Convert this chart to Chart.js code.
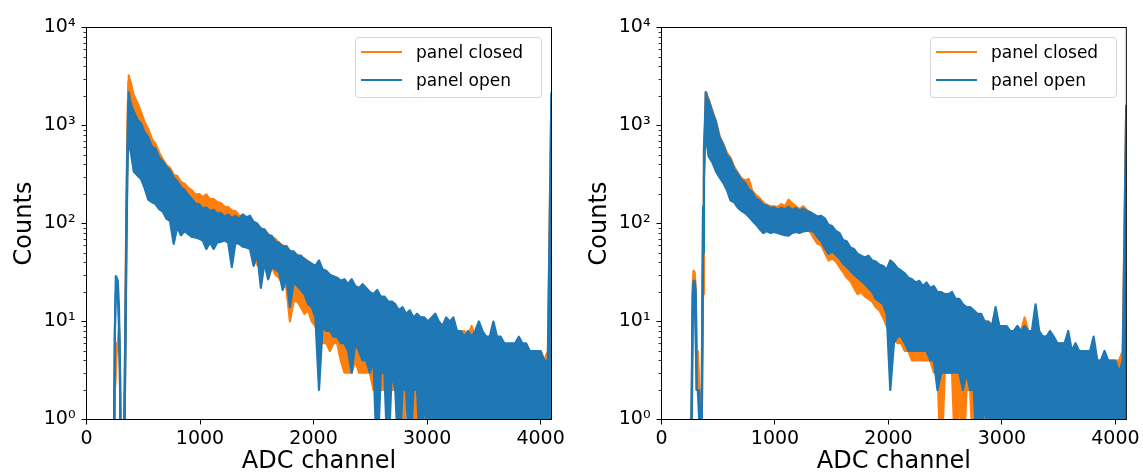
<!DOCTYPE html>
<html>
<head>
<meta charset="utf-8">
<script src="https://cdn.jsdelivr.net/npm/chart.js@4"></script>
<style>
  html,body{margin:0;padding:0;background:#fff;}
  body{width:1143px;height:472px;overflow:hidden;position:relative;font-family:'DejaVu Sans',sans-serif;}
  .panel{position:absolute;top:0;}
  .legend{position:absolute;top:37px;width:185px;height:59px;border:1px solid #d6d6d6;border-radius:4px;background:rgba(255,255,255,0.8);}
  .key{position:absolute;height:2.4px;width:41px;}
  .txt{position:absolute;font-size:17px;line-height:20px;color:#000;white-space:nowrap;}
</style>
</head>
<body>
<div class="panel" style="left:0;width:571px"><canvas id="left" width="571" height="480"></canvas></div>
<div class="panel" style="left:575px;width:568px"><canvas id="right" width="568" height="480"></canvas></div>
<script>
// spectra: dense region after the peak is sampled every 32 ADC channels,
// each series kept as upper / lower edge of its noise band (counts)
const GRID_START = 416, GRID_STEP = 32, GRID_END = 4064, LAST_CHANNEL = 4095;
const ZERO_FLOOR = 0.3;   // zero counts drop below the log axis, like matplotlib

const seriesLabels = ['panel closed', 'panel open'];
const seriesColors = ['#ff7f0e', '#1f77b4'];
const xTicks = [0, 1000, 2000, 3000, 4000];

// ---- left panel ----
const leftPre = [240, 250, 258, 266, 276, 286, 294, 302, 328, 336, 344, 352, 360, 368, 372, 380, 392, 404];

const leftOpenHi = [
  0, 8, 29, 28, 26, 14, 4, 0, 0, 2, 15, 140, 600, 1800, 2180, 1900, 1650, 1500,
  1400, 1150, 1050, 850, 760, 610, 580, 470,
  430, 380, 350, 295, 270, 235, 220, 196,
  178, 160, 158, 142, 146, 133, 138, 126,
  128, 118, 124, 114, 120, 112, 124, 116,
  120, 104, 100, 88, 87, 76, 75, 65,
  64, 58, 59, 52, 52, 47, 47, 43,
  41, 39, 37, 42, 34, 33, 30, 29,
  28, 26, 27, 24, 27, 23, 22, 24,
  22, 20, 19, 21, 18, 18, 16, 16,
  15, 13, 14, 12, 13, 11, 12, 11,
  11, 10, 11, 12, 10, 9, 11, 10,
  11, 8, 8, 7, 8, 7, 8, 10,
  8, 7, 7, 10, 7, 7, 6, 6,
  6, 6, 7, 6, 6, 5, 5, 5,
  5, 4, 4, 2180
];
const leftOpenLo = [
  0, 8, 20, 22, 18, 9, 3, 0, 0, 1, 6, 60, 300, 900, 1200, 600, 520, 420,
  340, 310, 285, 230, 175, 165, 158, 140,
  132, 112, 106, 62, 92, 76, 84, 78,
  73, 72, 70, 67, 55, 64, 55, 64,
  65, 67, 64, 36, 64, 62, 58, 57,
  55, 37, 49, 22, 40, 27, 36, 34,
  32, 21, 28, 14, 25, 23, 21, 19,
  15, 14, 11, 2, 9, 8, 8, 7,
  7, 6, 6, 5, 3, 6, 5, 4,
  4, 3, 4, 0, 3, 3, 0, 3,
  2, 0, 2, 2, 0, 2, 2, 0,
  2, 0, 0, 0, 1, 0, 0, 0,
  0, 0, 0, 0, 0, 0, 0, 0,
  0, 0, 0, 0, 0, 0, 0, 0,
  0, 0, 0, 0, 0, 0, 0, 0,
  0, 0, 0, 0
];
const leftClosedHi = [
  0, 2, 4, 6, 6, 9, 5, 0, 0, 2, 20, 180, 900, 2800, 3240, 3000, 2700, 2300,
  2050, 1700, 1380, 1080, 920, 730, 650, 530,
  455, 395, 370, 315, 305, 265, 255, 232,
  218, 198, 200, 186, 198, 176, 178, 165,
  162, 148, 147, 136, 134, 121, 119, 113,
  114, 100, 97, 90, 86, 78, 72, 70,
  62, 60, 57, 53, 50, 48, 45, 44,
  41, 38, 36, 38, 34, 32, 30, 28,
  27, 25, 26, 24, 25, 22, 22, 21,
  21, 19, 19, 18, 17, 17, 16, 15,
  14, 13, 13, 12, 12, 11, 11, 11,
  10, 10, 10, 11, 9, 9, 9, 9,
  9, 8, 8, 8, 7, 9, 7, 8,
  7, 7, 6, 7, 6, 6, 6, 5,
  5, 5, 5, 5, 5, 5, 5, 5,
  5, 4, 5, 1900
];
const leftClosedLo = [
  0, 2, 3, 5, 5, 6, 4, 0, 0, 1, 8, 80, 400, 1300, 1800, 1500, 1300, 1100,
  400, 360, 330, 280, 230, 210, 190, 175,
  160, 140, 130, 110, 110, 100, 100, 95,
  90, 88, 85, 82, 80, 78, 76, 75,
  75, 74, 72, 70, 70, 68, 66, 63,
  60, 45, 38, 35, 40, 27, 36, 30,
  28, 24, 22, 10, 16, 16, 14, 12,
  13, 10, 9, 7, 6, 6, 5, 6,
  6, 4, 3, 3, 3, 4, 3, 3,
  3, 3, 2, 2, 2, 2, 2, 2,
  2, 2, 0, 2, 2, 0, 0, 2,
  2, 0, 0, 0, 0, 0, 0, 0,
  0, 0, 0, 0, 0, 0, 0, 0,
  0, 0, 0, 0, 0, 0, 0, 0,
  0, 0, 0, 0, 0, 0, 0, 0,
  0, 0, 0, 0
];

// ---- right panel ----
const rightPre = [258, 266, 274, 282, 292, 302, 310, 320, 332, 342, 350, 358, 366, 374, 382, 390, 396, 404];

const rightOpenHi = [
  0, 2, 18, 26, 26, 20, 2, 2, 2, 0, 0, 6, 150, 600, 1000, 2180, 2100, 1900,
  1800, 1380, 1080, 750, 640, 500, 450, 360,
  320, 280, 262, 225, 210, 180, 172, 155,
  152, 144, 146, 138, 145, 140, 148, 138,
  144, 136, 142, 134, 130, 124, 118, 120,
  112, 97, 94, 84, 80, 68, 66, 57,
  55, 49, 47, 45, 47, 42, 41, 38,
  37, 34, 42, 39, 35, 33, 31, 28,
  27, 25, 26, 23, 25, 22, 23, 20,
  20, 19, 19, 20, 17, 17, 15, 14,
  14, 13, 12, 12, 10, 10, 9, 14,
  9, 9, 9, 8, 8, 9, 8, 9,
  8, 8, 15, 8, 7, 7, 8, 7,
  6, 6, 6, 8, 5, 6, 5, 5,
  5, 5, 7, 4, 4, 5, 4, 4,
  4, 3, 4, 1630
];
const rightOpenLo = [
  0, 1, 10, 20, 18, 6, 2, 2, 1, 0, 0, 2, 50, 300, 600, 1000, 700, 600,
  480, 420, 340, 295, 260, 220, 172, 165,
  145, 135, 128, 118, 107, 98, 88, 80,
  84, 80, 82, 80, 78, 76, 75, 80,
  82, 80, 83, 84, 85, 82, 72, 66,
  56, 49, 52, 48, 44, 39, 36, 33,
  30, 28, 26, 24, 22, 20, 17, 16,
  15, 12, 2, 6, 7, 7, 6, 5,
  5, 5, 5, 5, 5, 4, 4, 2,
  3, 3, 3, 3, 3, 3, 2, 3,
  2, 2, 0, 0, 2, 0, 0, 0,
  0, 0, 0, 0, 1, 0, 0, 0,
  0, 0, 0, 0, 0, 0, 0, 0,
  0, 0, 0, 0, 0, 0, 0, 0,
  0, 0, 0, 0, 0, 0, 0, 0,
  0, 0, 0, 0
];
const rightClosedHi = [
  0, 1, 22, 33, 32, 22, 5, 5, 2, 0, 0, 8, 120, 550, 950, 2200, 2150, 2000,
  1850, 1420, 1100, 780, 650, 530, 470, 380,
  330, 290, 275, 285, 215, 195, 182, 165,
  155, 150, 150, 148, 158, 150, 175, 160,
  150, 140, 150, 138, 130, 122, 116, 115,
  104, 92, 90, 80, 75, 65, 60, 55,
  50, 46, 45, 43, 44, 40, 40, 37,
  35, 33, 36, 36, 33, 31, 30, 27,
  25, 24, 24, 22, 23, 21, 21, 19,
  19, 18, 18, 18, 16, 16, 15, 13,
  13, 12, 12, 11, 10, 10, 9, 13,
  9, 9, 8, 8, 8, 8, 8, 11,
  8, 7, 7, 7, 7, 7, 7, 7,
  6, 6, 6, 6, 5, 5, 5, 5,
  5, 5, 4, 4, 4, 4, 4, 4,
  4, 4, 5, 1500
];
const rightClosedLo = [
  0, 0, 12, 24, 22, 10, 4, 4, 2, 0, 0, 3, 19, 280, 550, 1000, 800, 650,
  550, 480, 400, 330, 280, 240, 200, 185,
  160, 150, 140, 128, 115, 105, 95, 90,
  88, 86, 88, 86, 84, 82, 80, 84,
  86, 84, 86, 86, 82, 70, 62, 60,
  50, 42, 44, 41, 36, 32, 28, 26,
  22, 19, 20, 18, 17, 16, 14, 13,
  11, 9, 8, 7, 6, 6, 5, 5,
  4, 4, 4, 4, 4, 4, 3, 3,
  0, 3, 3, 3, 0, 2, 0, 2,
  2, 0, 2, 0, 2, 2, 0, 0,
  0, 0, 0, 0, 0, 0, 0, 0,
  0, 0, 0, 0, 0, 0, 0, 0,
  0, 0, 0, 0, 0, 0, 0, 0,
  0, 0, 0, 0, 0, 0, 0, 0,
  0, 0, 0, 0
];

const SUP = ['\u2070', '\u00b9', '\u00b2', '\u00b3', '\u2074'];

function channels(pre){
  const ch = pre.slice();
  for(let c = GRID_START; c <= GRID_END; c += GRID_STEP) ch.push(c);
  ch.push(LAST_CHANNEL);
  return ch;
}
function points(ch, vals){
  if(ch.length !== vals.length) console.error('length mismatch', ch.length, vals.length);
  return ch.map((c,i)=>({x:c, y: vals[i] > 0 ? vals[i] : ZERO_FLOOR}));
}

function band(label, color, ch, hi, lo, order){
  const common = {borderColor:color, backgroundColor:color, borderWidth:2.2, pointRadius:0,
    borderJoinStyle:'round', tension:0, clip:0};
  return [
    Object.assign({label, data:points(ch,hi), fill:'+1', order}, common),
    Object.assign({label:label+' low', data:points(ch,lo), fill:false, order:order+1}, common)
  ];
}

const frame = {
  id:'frame',
  afterDraw(chart){
    const {ctx, chartArea:a} = chart, y = chart.scales.y;
    ctx.save();
    ctx.strokeStyle = '#000';
    ctx.lineWidth = 1;
    ctx.strokeRect(a.left, a.top, a.right-a.left, a.bottom-a.top);
    ctx.lineWidth = 0.8;
    y.ticks.forEach(t=>{
      if(t.major) return;
      const py = Math.round(y.getPixelForValue(t.value)) + 0.5;
      ctx.beginPath(); ctx.moveTo(a.left-3, py); ctx.lineTo(a.left, py); ctx.stroke();
    });
    ctx.restore();
  }
};

function yTickList(){
  const out = [];
  for(let d=0; d<4; d++) for(let m=1; m<10; m++) out.push(m*Math.pow(10,d));
  out.push(10000);
  return out;
}
function isDecade(v){ return Math.abs(Math.log10(v) - Math.round(Math.log10(v))) < 1e-9; }

function mkChart(id, ch, closedHi, closedLo, openHi, openLo, rightPad){
  const datasets = [].concat(
    band(seriesLabels[1], seriesColors[1], ch, openHi, openLo, 0),
    band(seriesLabels[0], seriesColors[0], ch, closedHi, closedLo, 2)
  );
  return new Chart(document.getElementById(id), {
    type:'line',
    data:{datasets},
    plugins:[frame],
    options:{
      responsive:false, animation:false, devicePixelRatio:1,
      layout:{padding:{top:27.5, left:0, right:rightPad, bottom:0}},
      plugins:{legend:{display:false}, tooltip:{enabled:false}},
      scales:{
        x:{
          type:'linear', min:0, max:4096,
          afterFit:s=>{ s.height = 60.5; },
          afterBuildTicks:s=>{ s.ticks = xTicks.map(v=>({value:v})); },
          ticks:{autoSkip:false, maxRotation:0, padding:3, font:{size:19}, callback:v=>String(v)},
          grid:{display:true, drawOnChartArea:false, tickLength:5, tickColor:'#000', tickWidth:1},
          border:{display:true, color:'#000', width:1},
          title:{display:true, text:'ADC channel', font:{size:24}, padding:{top:4, bottom:4}}
        },
        y:{
          type:'logarithmic', min:1, max:10000,
          afterFit:s=>{ s.width = 86.5; },
          afterBuildTicks:s=>{ s.ticks = yTickList().map(v=>({value:v, major:isDecade(v)})); },
          ticks:{autoSkip:false, padding:6, font:{size:19},
            callback:v=> isDecade(v) ? '10' + SUP[Math.round(Math.log10(v))] : ''},
          grid:{display:true, drawOnChartArea:false, tickLength:5, tickWidth:1,
            tickColor:c=> (c.tick && c.tick.major) ? '#000' : 'rgba(0,0,0,0)'},
          border:{display:true, color:'#000', width:1},
          title:{display:true, text:'Counts', font:{size:24}, padding:{top:10, bottom:4}}
        }
      }
    }
  });
}

function addLegend(boxLeft){
  const box = document.createElement('div');
  box.className = 'legend';
  box.style.left = boxLeft + 'px';
  document.body.appendChild(box);
  seriesLabels.forEach((lab, i)=>{
    const key = document.createElement('div');
    key.className = 'key';
    key.style.left = (boxLeft + 6) + 'px';
    key.style.top = (50.8 + i*28) + 'px';
    key.style.background = seriesColors[i];
    document.body.appendChild(key);
    const t = document.createElement('div');
    t.className = 'txt';
    t.style.left = (boxLeft + 61) + 'px';
    t.style.top = (42 + i*28) + 'px';
    t.textContent = lab;
    document.body.appendChild(t);
  });
}

Chart.defaults.font.family = "'DejaVu Sans', sans-serif";
Chart.defaults.color = '#000';

mkChart('left', channels(leftPre), leftClosedHi, leftClosedLo, leftOpenHi, leftOpenLo, 19.5);
mkChart('right', channels(rightPre), rightClosedHi, rightClosedLo, rightOpenHi, rightOpenLo, 16.5);
addLegend(355);
addLegend(930);
</script>
</body>
</html>
